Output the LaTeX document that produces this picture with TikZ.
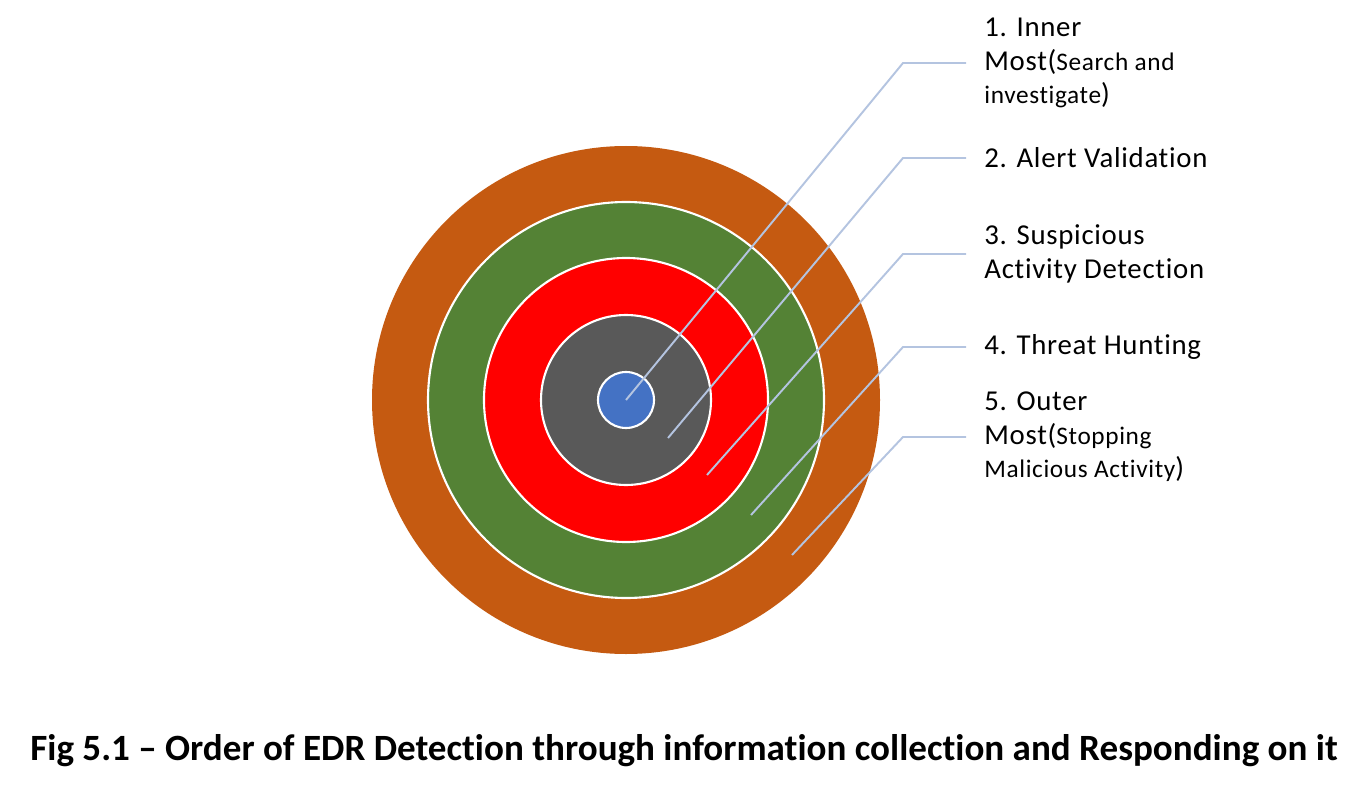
\documentclass[tikz,border=0pt]{standalone}
\usepackage{fontspec}
\setmainfont[Ligatures=NoCommon]{Carlito}
\newfontfamily\lblfont[Ligatures=NoCommon, LetterSpace=2.5]{Carlito}
\definecolor{ringorange}{HTML}{C55A11}
\definecolor{ringgreen}{HTML}{548235}
\definecolor{ringred}{HTML}{FF0000}
\definecolor{ringgray}{HTML}{595959}
\definecolor{ringblue}{HTML}{4472C4}
\definecolor{leadblue}{HTML}{B4C4E0}
\newcommand{\smalltxt}[1]{{\fontsize{14.4}{19}\selectfont #1}}

\begin{document}
\begin{tikzpicture}[x=0.02cm, y=-0.02cm,
    lead/.style={draw=leadblue, line width=1.1pt},
    lbl/.style={anchor=west, align=left, inner sep=0pt,
      font=\lblfont\fontsize{16.4}{19}\selectfont},
    caption/.style={anchor=base, inner sep=0pt,
      font=\fontsize{21.1}{26}\selectfont\bfseries}]
  \useasboundingbox (0,0) rectangle (1367,794);
  % Target rings
  \coordinate (c) at (626,400);
  \fill[ringorange] (c) circle (254);
  \filldraw[fill=ringgreen, draw=white, line width=1.2pt] (c) circle (198);
  \filldraw[fill=ringred, draw=white, line width=1.2pt] (c) circle (142);
  \filldraw[fill=ringgray, draw=white, line width=1.2pt] (c) circle (85);
  \filldraw[fill=ringblue, draw=white, line width=1.2pt] (c) circle (28);

  % Leader points
  \coordinate (t1) at (626,400);
  \coordinate (t2) at (668,438);
  \coordinate (t3) at (707,475);
  \coordinate (t4) at (751,515);
  \coordinate (t5) at (792,555);
  \coordinate (k1) at (903,63);
  \coordinate (k2) at (903,158);
  \coordinate (k3) at (903,254);
  \coordinate (k4) at (903,347);
  \coordinate (k5) at (903,437);
  \coordinate (e1) at (966,63);
  \coordinate (e2) at (966,158);
  \coordinate (e3) at (966,254);
  \coordinate (e4) at (966,347);
  \coordinate (e5) at (966,437);

  % Labels
  \node[lbl] (l1) at (984,63) {1. Inner\\Most(\smalltxt{Search and}\\\smalltxt{investigate})};
  \node[lbl] (l2) at (984,158) {2. Alert Validation};
  \node[lbl] (l3) at (984,254) {3. Suspicious\\Activity Detection};
  \node[lbl] (l4) at (984,347) {4. Threat Hunting};
  \node[lbl] (l5) at (984,437) {5. Outer\\Most(\smalltxt{Stopping}\\\smalltxt{Malicious Activity})};

  \draw[lead] (t1) -- (k1) -- (e1);
  \draw[lead] (t2) -- (k2) -- (e2);
  \draw[lead] (t3) -- (k3) -- (e3);
  \draw[lead] (t4) -- (k4) -- (e4);
  \draw[lead] (t5) -- (k5) -- (e5);

  % Caption
  \node[caption] (cap) at (684,760)
    {Fig 5.1 – Order of EDR Detection through information collection and Responding on it};
\end{tikzpicture}
\end{document}
